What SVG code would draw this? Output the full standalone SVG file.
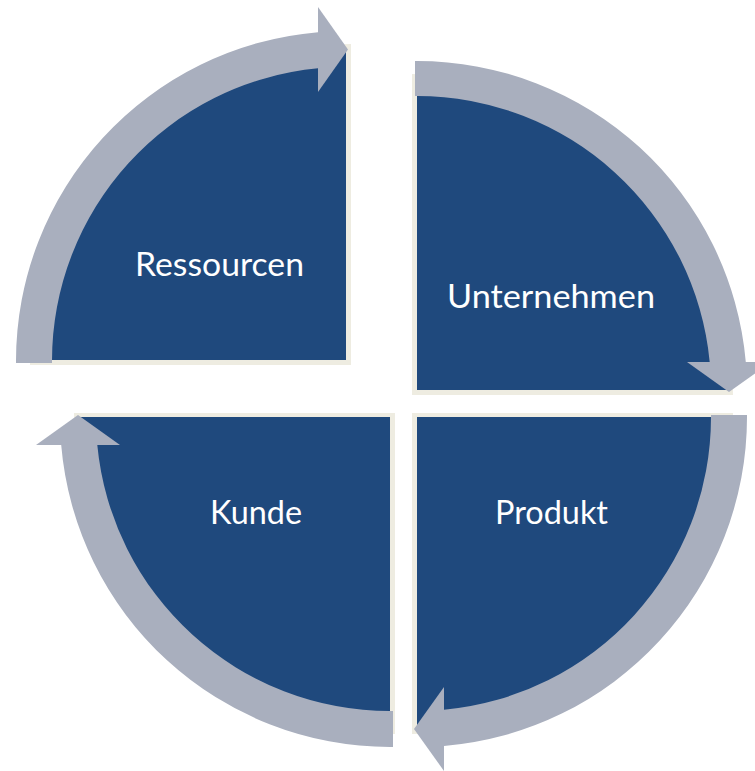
<svg xmlns="http://www.w3.org/2000/svg" width="755" height="771" viewBox="0 0 755 771">
  <style>
    .pie { fill: #1F497D; }
    .shadow { fill: #EEECE1; }
    .arrow { fill: #A9AFBE; }
    .label { fill: #FFFFFF; font-family: Lato, "Liberation Sans", sans-serif; font-size: 32px; text-anchor: middle; }
  </style>
  <rect width="755" height="771" fill="#FFFFFF"/>
  <g id="node-ressourcen">
    <path class="shadow" transform="translate(5,5)" d="M 346 360 L 25 360 A 321 321 0 0 1 346 39 Z"/>
    <path class="pie" d="M 346 360 L 34 360 A 312 312 0 0 1 346 48 Z"/>
    <text class="label" x="219.5" y="276" textLength="169" lengthAdjust="spacingAndGlyphs">Ressourcen</text>
  </g>
  <g id="node-unternehmen">
    <path class="shadow" transform="translate(-5,5)" d="M 417 390 L 417 69 A 321 321 0 0 1 738 390 Z"/>
    <path class="pie" d="M 417 390 L 417 78 A 312 312 0 0 1 729 390 Z"/>
    <text class="label" x="551" y="308" textLength="208" lengthAdjust="spacingAndGlyphs">Unternehmen</text>
  </g>
  <g id="node-produkt">
    <path class="shadow" transform="translate(-5,-4)" d="M 417 417 L 738 417 A 321 321 0 0 1 417 738 Z"/>
    <path class="pie" d="M 417 417 L 729 417 A 312 312 0 0 1 417 729 Z"/>
    <text class="label" x="551.5" y="524" textLength="113" lengthAdjust="spacingAndGlyphs">Produkt</text>
  </g>
  <g id="node-kunde">
    <path class="shadow" transform="translate(5,-4)" d="M 390 417 L 390 738 A 321 321 0 0 1 69 417 Z"/>
    <path class="pie" d="M 390 417 L 390 729 A 312 312 0 0 1 78 417 Z"/>
    <text class="label" x="256" y="524" textLength="92" lengthAdjust="spacingAndGlyphs">Kunde</text>
  </g>
  <g id="connectors">
    <path class="arrow" d="M 16 363 L 16 361 A 330 330 0 0 1 318 32.2 L 318 68.3 A 294 294 0 0 0 52 361 L 52 363 Z"/>
    <path class="arrow" d="M 318 7 L 348 49.5 L 318 92 Z"/>
    <path class="arrow" d="M 415 61 L 417 61 A 330 330 0 0 1 745.8 362 L 709.7 362 A 294 294 0 0 0 417 96 L 415 96 Z"/>
    <path class="arrow" d="M 687 362 L 771 362 L 729 392 Z"/>
    <path class="arrow" d="M 747 415 L 747 417 A 330 330 0 0 1 444 745.9 L 444 709.8 A 294 294 0 0 0 711 417 L 711 415 Z"/>
    <path class="arrow" d="M 444 687 L 444 771 L 414 729 Z"/>
    <path class="arrow" d="M 393 747 L 390 747 A 330 330 0 0 1 61.2 445 L 97.3 445 A 294 294 0 0 0 390 711 L 393 711 Z"/>
    <path class="arrow" d="M 36 445 L 120 445 L 78 415 Z"/>
  </g>
</svg>
